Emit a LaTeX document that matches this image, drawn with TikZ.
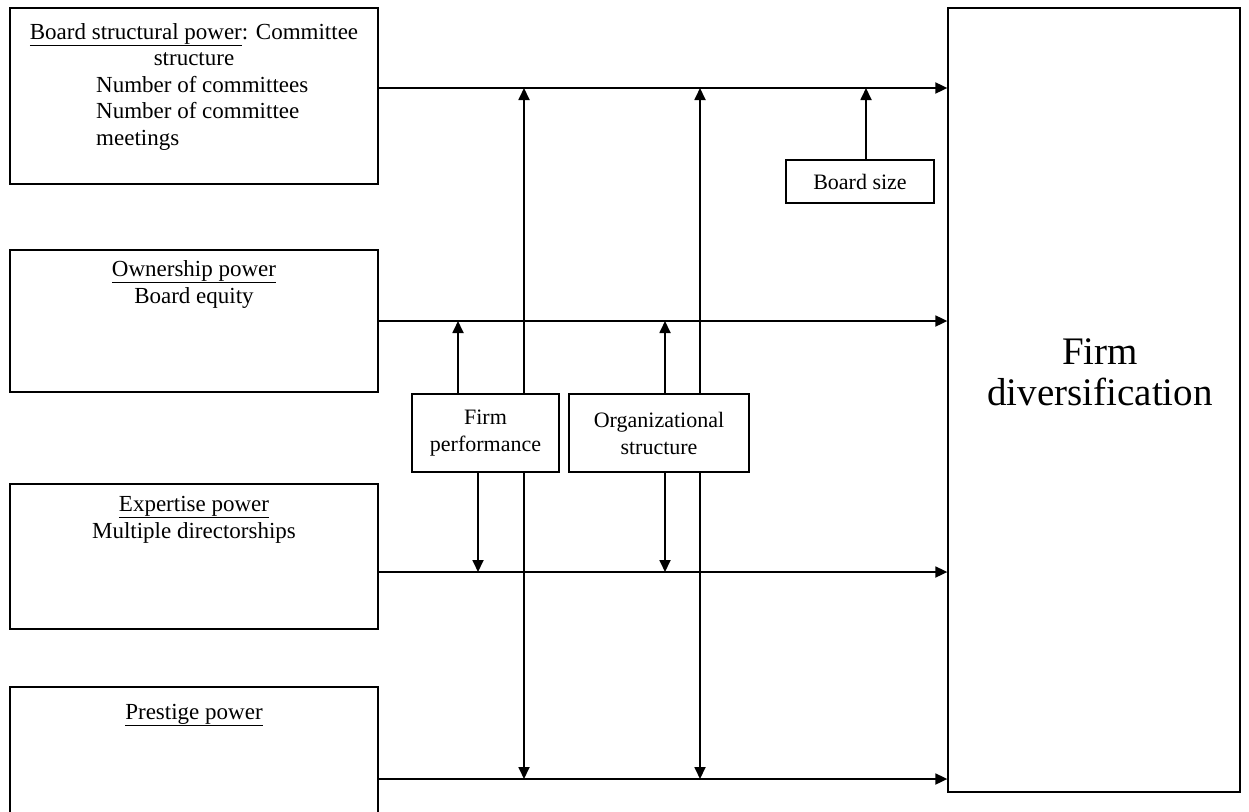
\documentclass[tikz,border=0pt]{standalone}
\usepackage{fontspec}
\setmainfont{Liberation Serif}
\usetikzlibrary{arrows.meta}
\begin{document}
\begin{tikzpicture}[x=1pt,y=-1pt,
  box/.style={draw, line width=1.3pt, fill=white, inner sep=0pt},
  arr/.style={line width=1.8pt, -{Triangle[length=12pt,width=11pt]}},
  dbl/.style={line width=1.8pt, {Triangle[length=12pt,width=11pt]}-{Triangle[length=12pt,width=11pt]}},
  txt/.style={font=\fontsize{23}{26.5}\selectfont, inner sep=0pt, anchor=base},
  ltxt/.style={txt, anchor=base west},
  mid/.style={box, font=\fontsize{22}{27}\selectfont, align=center}]
\useasboundingbox (0,0) rectangle (1249,811);
% left boxes
\node[box, minimum width=368, minimum height=176] (b1) at (194,96) {};
\node[box, minimum width=368, minimum height=142] (b2) at (194,321) {};
\node[box, minimum width=368, minimum height=145] (b3) at (194,556.5) {};
\node[box, minimum width=368, minimum height=145] (b4) at (194,759.5) {};
\node[box, minimum width=292, minimum height=784] (fd) at (1094,400) {};
% texts
\node[txt] (t1a) at (194,39) {\underline{Board structural power}: Committee};
\node[txt] (t1b) at (194,65.5) {structure};
\node[ltxt] (t1c) at (96,92) {Number of committees};
\node[ltxt] (t1d) at (96,118.5) {Number of committee};
\node[ltxt] (t1e) at (96,145) {meetings};
\node[txt] (t2a) at (194,276) {\underline{Ownership power}};
\node[txt] (t2b) at (194,303) {Board equity};
\node[txt] (t3a) at (194,511) {\underline{Expertise power}};
\node[txt] (t3b) at (194,538) {Multiple directorships};
\node[txt] (t4a) at (194,719) {\underline{Prestige power}};
\node[font=\fontsize{39}{41}\selectfont, align=center, inner sep=0pt] (tfd) at (1100,372) {Firm\\diversification};
% horizontal arrows
\coordinate (h1) at (0,88);
\coordinate (h2) at (0,321);
\coordinate (h3) at (0,572);
\coordinate (h4) at (0,779);
\draw[arr] (b1.east |- h1) -- (fd.west |- h1);
\draw[arr] (b2.east |- h2) -- (fd.west |- h2);
\draw[arr] (b3.east |- h3) -- (fd.west |- h3);
\draw[arr] (b4.east |- h4) -- (fd.west |- h4);
% long double arrows
\coordinate (v1) at (524,0);
\coordinate (v2) at (700,0);
\draw[dbl] (v1 |- h1) -- (v1 |- h4);
\draw[dbl] (v2 |- h1) -- (v2 |- h4);
% moderator boxes
\node[mid, minimum width=147, minimum height=78] (fp) at (485.5,433) {Firm\\performance};
\node[mid, minimum width=180, minimum height=78] (os) at (659,433) {Organizational\\structure};
\node[mid, minimum width=148, minimum height=43] (bs) at (860,181.5) {Board size};
\coordinate (c1) at (458,0);
\coordinate (c2) at (478,0);
\coordinate (c3) at (665,0);
\coordinate (c4) at (866,0);
\draw[arr] (fp.north -| c1) -- (c1 |- h2);
\draw[arr] (fp.south -| c2) -- (c2 |- h3);
\draw[arr] (os.north -| c3) -- (c3 |- h2);
\draw[arr] (os.south -| c3) -- (c3 |- h3);
\draw[arr] (bs.north -| c4) -- (c4 |- h1);
\end{tikzpicture}
\end{document}
